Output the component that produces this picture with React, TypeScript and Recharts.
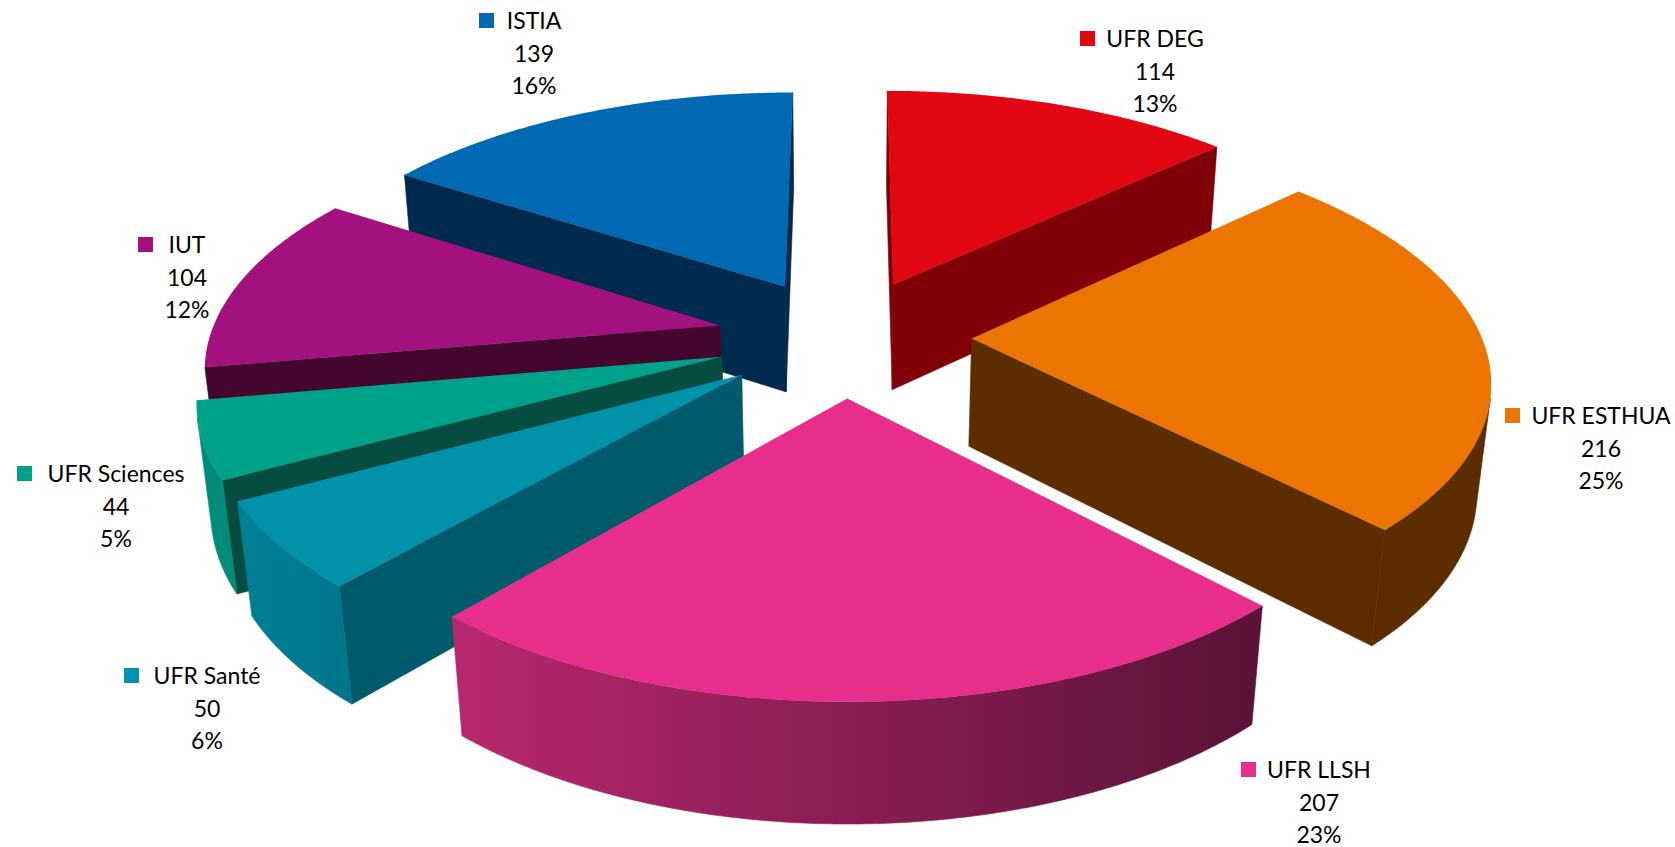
import React from 'react';
import { PieChart, Pie, Cell } from 'recharts';

// listed counter-clockwise from the top of UFR DEG's edge, so that the DOM order is also back-to-front
const names = ['UFR DEG', 'ISTIA', 'IUT', 'UFR Sciences', 'UFR Santé', 'UFR LLSH', 'UFR ESTHUA'];
const counts = [114, 139, 104, 44, 50, 207, 216];
const percents = ['13%', '16%', '12%', '5%', '6%', '23%', '25%'];

const topColors = ['#E20613', '#0069B3', '#A3117E', '#00A189', '#0092AB', '#E72E8A', '#EC7400'];
const sideColors = ['#800007', '#002A4D', '#43062F', '#044D40', '#005A6B', '#5A1238', '#5C2D00'];
const rimLeftColors = ['#7A0006', '#00508C', '#43062F', '#008C78', '#007F95', '#B8286F', '#5C2D00'];
const rimRightColors = ['#7A0006', '#00508C', '#43062F', '#008C78', '#00758A', '#5A1238', '#5C2D00'];

// where each label sits: centre of the text, first line, left of the colour key
const labelCenterX = [1155, 534, 187, 116, 207, 1319, 1601];
const labelTopY = [39, 21, 245, 474, 676, 770, 416];
const labelKeyX = [1080, 479, 138, 17, 124, 1241, 1505];

const chartData = names.map((name, i) => ({ name, value: counts[i], index: i }));

const CX = 844;
const CY = 337;
const RADIUS = 510;
const SQUASH = 0.465; // depth foreshortening of the disc
const PERSPECTIVE = 0.15;
const EXPLODE = 0.25;
const WALL = 110;
const WALL_SHRINK = 0.022;

type Pt = [number, number];

const rad = (a: number) => (a * Math.PI) / 180;

// model point on the exploded disc -> screen, z = 0 top face, z = 1 bottom face
const project = (mid: number, angle: number, r: number, z: number, cx: number, cy: number, R: number): Pt => {
  const mx = EXPLODE * Math.cos(rad(mid)) + r * Math.cos(rad(angle));
  const my = -(EXPLODE * Math.sin(rad(mid)) + r * Math.sin(rad(angle)));
  const w = 1 - PERSPECTIVE * my + WALL_SHRINK * z;
  return [cx + (R * mx) / w, cy + (R * SQUASH * my + WALL * z) / w];
};

const toPath = (pts: Pt[]) => 'M' + pts.map((p) => `${p[0].toFixed(2)},${p[1].toFixed(2)}`).join('L') + 'Z';

const shoelace = (pts: Pt[]) => {
  let s = 0;
  pts.forEach((p, i) => {
    const q = pts[(i + 1) % pts.length];
    s += p[0] * q[1] - q[0] * p[1];
  });
  return s;
};

const Slice3D = (props: any) => {
  const { cx, cy, outerRadius, startAngle, endAngle, index, fill } = props;
  const mid = (startAngle + endAngle) / 2;
  const top = (a: number, r = 1) => project(mid, a, r, 0, cx, cy, outerRadius);
  const bottom = (a: number, r = 1) => project(mid, a, r, 1, cx, cy, outerRadius);

  const angles: number[] = [];
  for (let a = startAngle; a < endAngle; a += 0.5) angles.push(a);
  angles.push(endAngle);

  const faces: React.ReactNode[] = [];
  const gradId = `rim-${index}`;

  // the two flat cut faces, only when they turn towards the viewer
  const cutA: Pt[] = [top(0, 0), top(startAngle), bottom(startAngle), bottom(0, 0)];
  const cutB: Pt[] = [top(endAngle), top(0, 0), bottom(0, 0), bottom(endAngle)];
  [cutA, cutB].forEach((quad, i) => {
    if (shoelace(quad) > 0) {
      faces.push(<path key={`cut${i}`} d={toPath(quad)} fill={sideColors[index]} stroke={sideColors[index]} strokeWidth={0.6} />);
    }
  });

  // curved rim: group the steps that face the viewer
  let run: number[] = [];
  const runs: number[][] = [];
  for (let i = 0; i < angles.length - 1; i++) {
    const a = angles[i];
    const b = angles[i + 1];
    const visible = shoelace([top(a), top(b), bottom(b), bottom(a)]) > 0;
    if (visible) {
      if (!run.length) run.push(a);
      run.push(b);
    } else if (run.length) {
      runs.push(run);
      run = [];
    }
  }
  if (run.length) runs.push(run);

  runs.forEach((r, i) => {
    const pts = [...r.map((a) => top(a)), ...r.slice().reverse().map((a) => bottom(a))];
    faces.push(<path key={`rim${i}`} d={toPath(pts)} fill={`url(#${gradId})`} stroke={`url(#${gradId})`} strokeWidth={0.6} />);
  });

  const xs = runs.flat().flatMap((a) => [top(a)[0], bottom(a)[0]]);
  const x1 = xs.length ? Math.min(...xs) : cx;
  const x2 = xs.length ? Math.max(...xs) : cx + 1;

  const topFace: Pt[] = [top(0, 0), ...angles.map((a) => top(a))];

  return (
    <g>
      <defs>
        <linearGradient id={gradId} gradientUnits="userSpaceOnUse" x1={x1} x2={x2} y1={0} y2={0}>
          <stop offset="0" stopColor={rimLeftColors[index]} />
          <stop offset="1" stopColor={rimRightColors[index]} />
        </linearGradient>
      </defs>
      {faces}
      <path d={toPath(topFace)} fill={fill} />
    </g>
  );
};

const SliceLabel = (props: any) => {
  const i = props.index;
  const x = labelCenterX[i];
  const y = labelTopY[i];
  const style = { fontFamily: 'Lato, "Open Sans", sans-serif', fontSize: 23, fill: '#000' };
  return (
    <g>
      <rect x={labelKeyX[i]} y={y - 8} width={15} height={15} fill={topColors[i]} />
      <text x={x} y={y + 8} textAnchor="middle" style={style}>{names[i]}</text>
      <text x={x} y={y + 41} textAnchor="middle" style={style}>{counts[i]}</text>
      <text x={x} y={y + 73} textAnchor="middle" style={style}>{percents[i]}</text>
    </g>
  );
};

export default function App() {
  return (
    <div style={{ position: 'absolute', left: 0, top: 0, width: 1675, height: 847 }}>
      <PieChart width={1675} height={847} margin={{ top: 0, right: 0, bottom: 0, left: 0 }}>
        <Pie
          data={chartData}
          dataKey="value"
          nameKey="name"
          cx={CX}
          cy={CY}
          innerRadius={0}
          outerRadius={RADIUS}
          startAngle={43}
          endAngle={403}
          stroke="none"
          isAnimationActive={false}
          shape={Slice3D}
          label={SliceLabel}
          labelLine={false}
        >
          {chartData.map((d, i) => (
            <Cell key={d.name} fill={topColors[i]} />
          ))}
        </Pie>
      </PieChart>
    </div>
  );
}
